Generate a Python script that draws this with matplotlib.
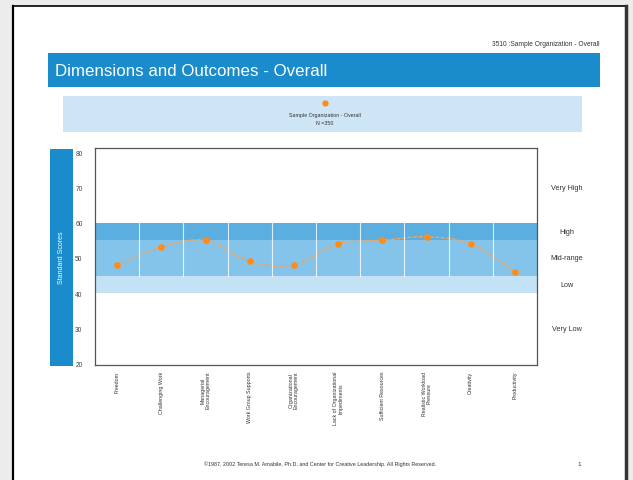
import numpy as np
import matplotlib
matplotlib.use("Agg")
from matplotlib import pyplot as plt
from matplotlib.patches import Rectangle, PathPatch
from matplotlib.path import Path

plt.rcParams['font.family'] = ['Liberation Sans', 'DejaVu Sans']

W, H = 633, 481

# KEYS dimensions and outcomes, standard scores
categories = ["Freedom", "Challenging Work", "Managerial\nEncouragement",
              "Work Group Supports", "Organizational\nEncouragement",
              "Lack of Organizational\nImpediments", "Sufficient Resources",
              "Realistic Workload\nPressure", "Creativity", "Productivity"]
scores = [48, 53, 55, 49, 48, 54, 55, 56, 54, 46]

yticks = [20, 30, 40, 50, 60, 70, 80]
range_names = ["Very High", "High", "Mid-range", "Low", "Very Low"]
range_pos = [70, 57.5, 50, 42.5, 30]

BLUE = "#1a8bcb"
ORANGE = "#ff8c1a"


def fx(x):
    return x / W


def fy(y):
    return 1 - y / H


def box(x0, y0, x1, y1, **kw):
    # rectangle given in pixel coordinates (top-left origin)
    return Rectangle((fx(x0), fy(y1)), fx(x1) - fx(x0), fy(y0) - fy(y1),
                     transform=fig.transFigure, **kw)


fig = plt.figure(figsize=(W / 100, H / 100), dpi=100)
fig.patch.set_facecolor("#ececec")

# page
fig.patches.append(box(13, 7, 626, 490, facecolor="white", edgecolor="none",
                       zorder=-5))
fig.add_artist(plt.Line2D([fx(13), fx(13)], [fy(7), 0], color="black", lw=1.6,
                          transform=fig.transFigure))
fig.add_artist(plt.Line2D([fx(13), fx(626)], [fy(7), fy(7)], color="black", lw=1.2,
                          transform=fig.transFigure))
fig.add_artist(plt.Line2D([fx(626), fx(626)], [fy(7), 0], color="#333333", lw=2.5,
                          transform=fig.transFigure))

fig.text(fx(600), fy(44), "3510 :Sample Organization - Overall", fontsize=4.8,
         ha="right", va="center", color="#333333")

# title banner
fig.patches.append(box(48, 54, 600, 88, facecolor=BLUE, edgecolor="none"))
fig.text(fx(55), fy(71), "Dimensions and Outcomes - Overall", fontsize=12.2,
         color="white", ha="left", va="center")

# legend panel
fig.patches.append(box(63, 97, 582, 133, facecolor="#cde5f5", edgecolor="none"))
fig.add_artist(plt.Line2D([fx(325)], [fy(104)], marker="o", ms=4.5, color=ORANGE,
                          mec="none", transform=fig.transFigure))
fig.text(fx(325), fy(115), "Sample Organization - Overall", fontsize=3.8,
         ha="center", va="center", color="#333333")
fig.text(fx(325), fy(123.5), "N =350", fontsize=3.8, ha="center", va="center",
         color="#333333")

# side bar with axis title
fig.patches.append(box(50, 150, 73, 367, facecolor=BLUE, edgecolor="none"))
fig.text(fx(61.5), fy(258), "Standard Scores", fontsize=5, rotation=90,
         color="white", ha="center", va="center")

ax = fig.add_axes([fx(95), fy(366), fx(537) - fx(95), fy(149) - fy(366)])
x = np.arange(len(scores))
ax.set_xlim(-0.5, len(scores) - 0.5)
ax.set_ylim(19.6, 81.2)

# score bands
ax.axhspan(55, 60, color="#5aafe0", lw=0)
ax.axhspan(45, 55, color="#84c4ea", lw=0)
ax.axhspan(40, 45, color="#c4e2f5", lw=0)
for b in np.arange(0.5, len(scores) - 0.5):
    ax.plot([b, b], [45, 60], color="white", lw=0.8, alpha=0.8)

# smoothed connecting line (Catmull-Rom as cubic Bezier segments)
pts = np.column_stack([x, scores]).astype(float)
verts = [pts[0]]
codes = [Path.MOVETO]
for i in range(len(pts) - 1):
    p0 = pts[max(i - 1, 0)]
    p1 = pts[i]
    p2 = pts[i + 1]
    p3 = pts[min(i + 2, len(pts) - 1)]
    verts += [p1 + (p2 - p0) / 6, p2 - (p3 - p1) / 6, p2]
    codes += [Path.CURVE4] * 3
ax.add_patch(PathPatch(Path(verts, codes), facecolor="none",
                       edgecolor="#f2a35e", lw=1.0, ls=(0, (3, 1))))
ax.plot(x, scores, "o", color=ORANGE, ms=4.8, mec="none", zorder=5)

ax.set_yticks(yticks)
ax.set_yticklabels([str(t) for t in yticks], fontsize=4.8, color="#444444")
ax.set_xticks(x)
ax.set_xticklabels(categories, rotation=90, fontsize=3.8, color="#333333",
                   va="top", ha="center", linespacing=1.0)
ax.tick_params(length=0, pad=4)
ax.tick_params(axis="y", pad=9)
for s in ax.spines.values():
    s.set_color("#555555")
    s.set_linewidth(0.9)

for name, v in zip(range_names, range_pos):
    fig.text(fx(567), ax.transData.transform((0, v))[1] / fig.bbox.height, name,
             fontsize=5.2, ha="center", va="center", color="#333333")

fig.text(fx(320), fy(464),
         "\u00a91987, 2002 Teresa M. Amabile, Ph.D. and Center for Creative Leadership. All Rights Reserved.",
         fontsize=3.9, ha="center", va="center", color="#333333")
fig.text(fx(579), fy(464), "1", fontsize=4.5, ha="center", va="center", color="#333333")

fig.savefig("out.png", dpi=100)
